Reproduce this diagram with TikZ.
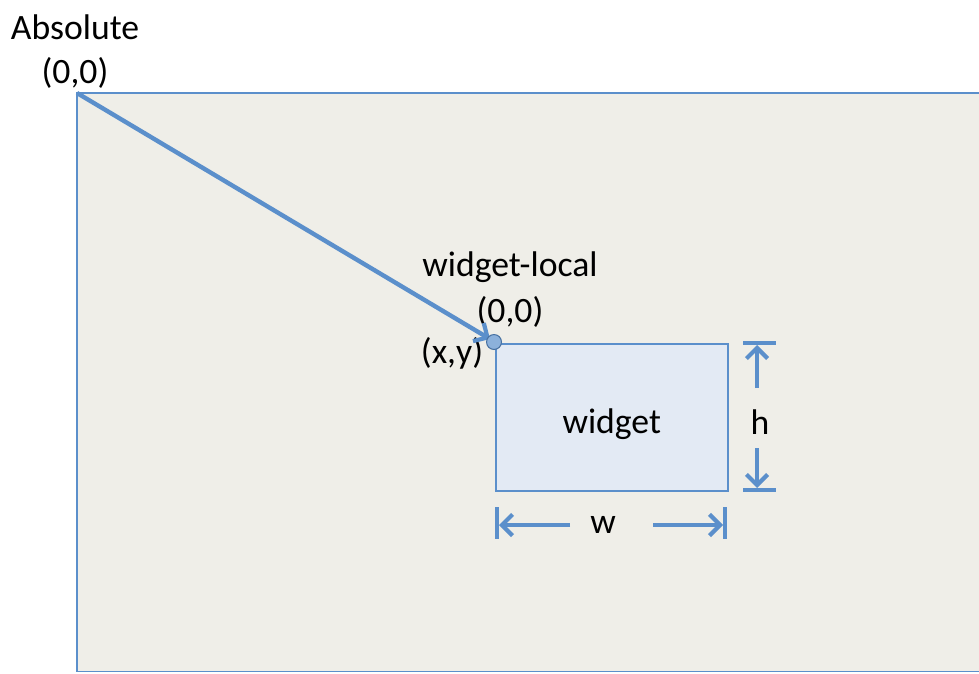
\documentclass[tikz,border=0pt]{standalone}
\usepackage{fontspec}
\setmainfont{Carlito}
\usetikzlibrary{arrows.meta}
\definecolor{paper}{RGB}{239,238,232}
\definecolor{line}{RGB}{91,143,203}
\definecolor{wfill}{RGB}{227,234,244}
\tikzset{lbl/.style={font=\fontsize{20.3}{24}\selectfont,inner sep=0pt},
  dim/.style={draw=line,line width=2.5pt},
  dimarrow/.style={dim,-{Straight Barb[length=6pt,width=12pt,line width=2.4pt]}}}
\begin{document}
\begin{tikzpicture}[x=0.02cm,y=-0.02cm]
\useasboundingbox (0,0) rectangle (979,673);
\clip (0,0) rectangle (979,673);
\draw[draw=line,fill=paper,line width=0.9pt] (77,93) rectangle (1010,671.5);

\node[lbl] (abs) at (75,27) {Absolute};
\node[lbl] (abs0) at (75,73) {(0,0)};
\coordinate (origin) at (77,93);

\node[draw=line,fill=wfill,line width=0.9pt,minimum width=4.64cm,minimum height=2.94cm,anchor=north west,lbl,text height=22pt,text depth=4pt] (widget) at (495,343) {widget};
\node[lbl] (local) at (510,267) {widget-local};
\node[lbl] (local0) at (510,312) {(0,0)};
\node[lbl] (xy) at (452,353) {(x,y)};
\draw[dimarrow] (origin)--(490,339);
\node[circle,draw=line!80!black,fill=line!70!white,inner sep=0pt,minimum size=8.5pt,line width=0.6pt] (dot) at (494,342) {};

% height
\node[lbl] (h) at (760,422) {h};
\draw[dim] (743,343)--(776,343) (743,490)--(776,490);
\draw[dimarrow] (757,388)--(757,345);
\draw[dimarrow] (757,448)--(757,488);

% width
\node[lbl] (w) at (603,525) {w};
\draw[dim] (497,507)--(497,539) (725,507)--(725,539);
\draw[dimarrow] (570,525)--(499,525);
\draw[dimarrow] (653,525)--(723,525);
\end{tikzpicture}
\end{document}
